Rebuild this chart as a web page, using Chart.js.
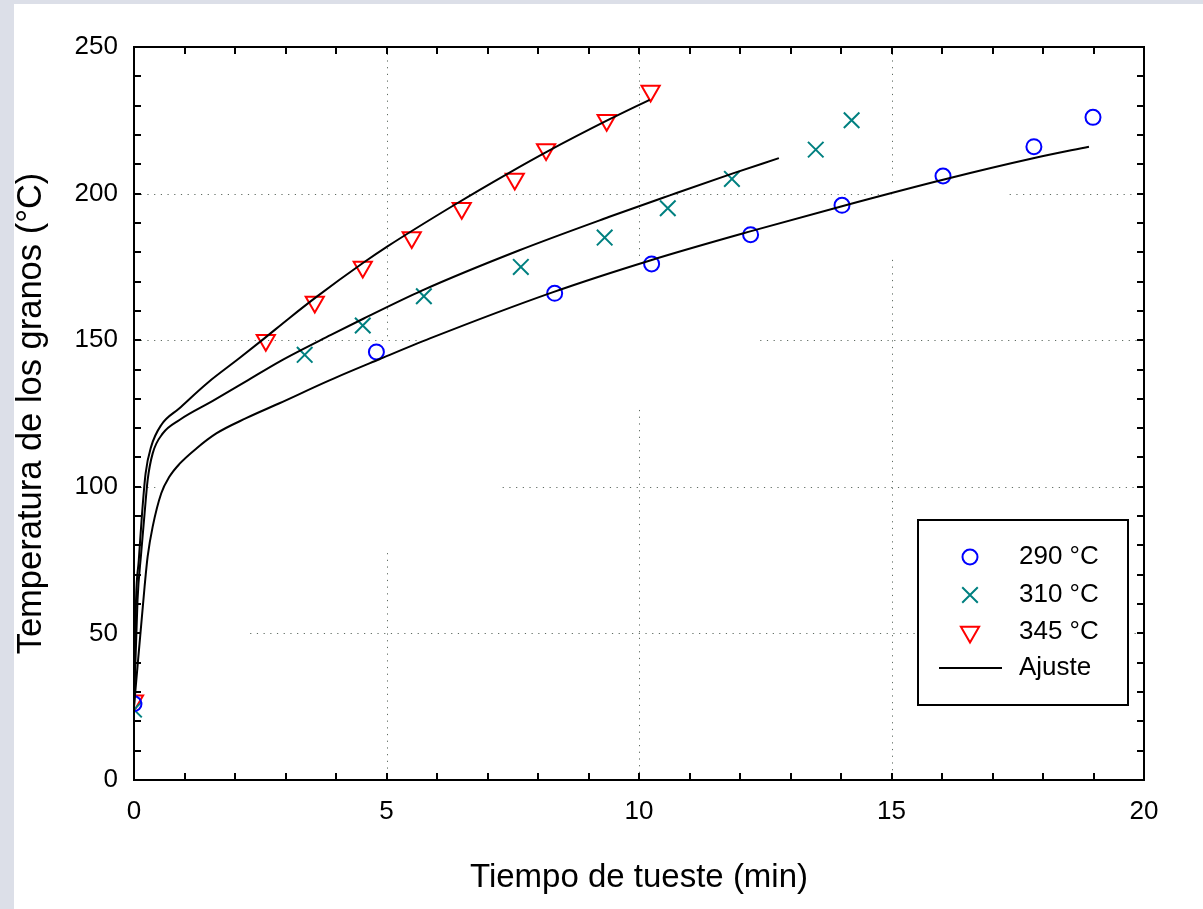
<!DOCTYPE html>
<html>
<head>
<meta charset="utf-8">
<title>Temperatura de los granos</title>
<script src="https://cdn.jsdelivr.net/npm/chart.js@4/dist/chart.umd.min.js"></script>
<style>
  html, body { margin: 0; padding: 0; background: #dcdfe8; }
  #wrap { width: 1203px; height: 909px; position: relative; }
</style>
</head>
<body>
<div id="wrap"><canvas id="grafica" width="1203" height="909"></canvas></div>
<script>
// Mediciones: tiempo (min) y temperatura de los granos (°C)
var tiempo290 = [0, 4.80, 8.33, 10.25, 12.21, 14.02, 16.02, 17.82, 18.99];
var temp290   = [26, 146, 166, 176, 186, 196, 206, 216, 226];

var tiempo310 = [0, 3.38, 4.53, 5.74, 7.66, 9.32, 10.57, 11.84, 13.50, 14.21];
var temp310   = [24, 145, 155, 165, 175, 185, 195, 205, 215, 225];

var tiempo345 = [0, 2.61, 3.58, 4.53, 5.50, 6.49, 7.54, 8.16, 9.36, 10.23];
var temp345   = [27, 150, 163, 175, 185, 195, 205, 215, 225, 235];

// Curvas de ajuste
var ajusteX290 = [0, 0.21, 0.27, 0.37, 0.54, 0.70, 0.90, 1.23, 1.63, 2.22, 2.88, 3.87, 4.86, 5.86, 8.30, 10.22, 12.22, 14.02, 16.04, 17.85, 18.91];
var ajusteT290 = [25, 66.0, 76.2, 86.4, 97.8, 103.4, 107.8, 113.0, 118.2, 123.4, 128.5, 136.3, 143.5, 150.6, 166.4, 177.2, 187.2, 195.7, 204.8, 212.2, 216.0];

var ajusteX310 = [0, 0.07, 0.14, 0.21, 0.27, 0.37, 0.57, 0.90, 1.56, 2.26, 2.89, 3.90, 4.55, 5.71, 7.62, 9.40, 10.61, 11.86, 12.77];
var ajusteT310 = [25, 61.4, 77.0, 91.0, 102.3, 111.4, 118.2, 122.8, 129.3, 136.4, 142.8, 151.8, 157.4, 167.0, 180.6, 192.0, 199.4, 206.9, 212.1];

var ajusteX345 = [0, 0.04, 0.095, 0.16, 0.23, 0.34, 0.54, 0.90, 1.46, 2.09, 2.55, 3.08, 3.60, 4.54, 5.02, 6.35, 7.42, 8.19, 9.40, 10.21];
var ajusteT345 = [25, 61.4, 75.0, 91.0, 104.6, 113.7, 121.1, 126.8, 135.5, 143.9, 150.2, 157.6, 164.6, 176.4, 182.0, 196.2, 207.0, 214.4, 225.2, 232.0];

var nombres = ['290 °C', '310 °C', '345 °C', 'Ajuste'];
var ticksX = [0, 5, 10, 15, 20];
var ticksY = [0, 50, 100, 150, 200, 250];

// Tramos visibles de la rejilla punteada: [eje, valor, desde, hasta]
var rejilla = [
  ['y', 200, 0, 15.0], ['y', 200, 17.34, 20],
  ['y', 150, 0, 5.65], ['y', 150, 12.4, 20],
  ['y', 100, 0, 0.5], ['y', 100, 7.3, 20],
  ['y', 50, 2.3, 20],
  ['x', 5, 150, 250], ['x', 5, 0, 77.4],
  ['x', 10, 177.4, 250], ['x', 10, 0, 126.2],
  ['x', 15, 202.3, 250], ['x', 15, 0, 177.4]
];

function puntos(xs, ys) {
  return xs.map(function(x, i) { return { x: x, y: ys[i] }; });
}

var fuente = 'Liberation Sans, Arial, sans-serif';

var datasets = [
  { label: nombres[3], data: puntos(ajusteX290, ajusteT290), showLine: true, pointRadius: 0, borderColor: '#000', borderWidth: 2, cubicInterpolationMode: 'monotone' },
  { label: nombres[3], data: puntos(ajusteX310, ajusteT310), showLine: true, pointRadius: 0, borderColor: '#000', borderWidth: 2, cubicInterpolationMode: 'monotone' },
  { label: nombres[3], data: puntos(ajusteX345, ajusteT345), showLine: true, pointRadius: 0, borderColor: '#000', borderWidth: 2, cubicInterpolationMode: 'monotone' },
  { label: nombres[0], data: puntos(tiempo290, temp290), showLine: false,
    pointStyle: 'circle', pointRadius: 7.5, borderColor: '#0000ff', backgroundColor: 'rgba(0,0,0,0)', pointBorderWidth: 2, borderWidth: 2 },
  { label: nombres[1], data: puntos(tiempo310, temp310), showLine: false,
    pointStyle: 'crossRot', pointRadius: 11, borderColor: '#008080', backgroundColor: 'rgba(0,0,0,0)', pointBorderWidth: 2, borderWidth: 2 },
  { label: nombres[2], data: puntos(tiempo345, temp345), showLine: false,
    pointStyle: 'triangle', rotation: 180, pointRadius: 10.5, borderColor: '#ff0000', backgroundColor: 'rgba(0,0,0,0)', pointBorderWidth: 2, borderWidth: 2 }
];

// Fondo blanco y rejilla punteada por tramos
var fondoRejilla = {
  id: 'fondoRejilla',
  beforeDraw: function(chart) {
    var ctx = chart.ctx;
    ctx.save();
    ctx.fillStyle = '#dcdfe8';
    ctx.fillRect(0, 0, chart.width, chart.height);
    ctx.fillStyle = '#ffffff';
    ctx.fillRect(14, 4, chart.width - 14, chart.height - 4);
    ctx.restore();
  },
  beforeDatasetsDraw: function(chart) {
    var ctx = chart.ctx, sx = chart.scales.x, sy = chart.scales.y;
    ctx.save();
    ctx.strokeStyle = '#5f6b62';
    ctx.lineWidth = 1;
    ctx.setLineDash([1.2, 5.5]);
    rejilla.forEach(function(r) {
      ctx.beginPath();
      if (r[0] === 'y') {
        var py = Math.round(sy.getPixelForValue(r[1])) + 0.5;
        ctx.moveTo(sx.getPixelForValue(r[2]), py);
        ctx.lineTo(sx.getPixelForValue(r[3]), py);
      } else {
        var px = Math.round(sx.getPixelForValue(r[1])) + 0.5;
        ctx.moveTo(px, sy.getPixelForValue(r[3]));
        ctx.lineTo(px, sy.getPixelForValue(r[2]));
      }
      ctx.stroke();
    });
    ctx.restore();
  }
};

// Marco con marcas hacia dentro y leyenda dentro del área
var marcoLeyenda = {
  id: 'marcoLeyenda',
  afterDatasetsDraw: function(chart) {
    var ctx = chart.ctx, a = chart.chartArea, sx = chart.scales.x, sy = chart.scales.y;
    var largo = 7, i, p;
    ctx.save();
    ctx.strokeStyle = '#000';
    ctx.lineWidth = 2;
    ctx.strokeRect(a.left, a.top, a.right - a.left, a.bottom - a.top);
    ctx.beginPath();
    for (i = 1; i < 20; i++) {
      p = Math.round(sx.getPixelForValue(i));
      ctx.moveTo(p, a.bottom); ctx.lineTo(p, a.bottom - largo);
      ctx.moveTo(p, a.top); ctx.lineTo(p, a.top + largo);
    }
    for (i = 10; i < 250; i += 10) {
      p = Math.round(sy.getPixelForValue(i));
      ctx.moveTo(a.left, p); ctx.lineTo(a.left + largo, p);
      ctx.moveTo(a.right, p); ctx.lineTo(a.right - largo, p);
    }
    ctx.stroke();

    // leyenda
    var bx = a.right - 226, by = a.bottom - 260, bw = 210, bh = 185;
    ctx.fillStyle = '#fff';
    ctx.fillRect(bx, by, bw, bh);
    ctx.strokeRect(bx, by, bw, bh);
    ctx.font = '26px ' + fuente;
    ctx.textBaseline = 'middle';
    ctx.textAlign = 'left';
    var filas = [37, 75, 112, 148];
    for (i = 0; i < 4; i++) {
      var cy = by + filas[i];
      if (i < 3) {
        var ds = chart.data.datasets[i + 3];
        ctx.strokeStyle = ds.borderColor;
        ctx.fillStyle = 'rgba(0,0,0,0)';
        ctx.lineWidth = 2;
        Chart.helpers.drawPoint(ctx, {
          pointStyle: ds.pointStyle, radius: ds.pointRadius,
          rotation: ds.rotation || 0, borderWidth: 2
        }, bx + 52, cy);
      } else {
        ctx.strokeStyle = '#000';
        ctx.lineWidth = 2;
        ctx.beginPath();
        ctx.moveTo(bx + 21, cy); ctx.lineTo(bx + 84, cy);
        ctx.stroke();
      }
      ctx.fillStyle = '#000';
      ctx.fillText(nombres[i], bx + 101, cy);
    }
    ctx.restore();
  }
};

new Chart(document.getElementById('grafica'), {
  type: 'scatter',
  data: { datasets: datasets },
  plugins: [fondoRejilla, marcoLeyenda],
  options: {
    responsive: false,
    animation: false,
    layout: { padding: { left: 0, top: 47, right: 59, bottom: 0 } },
    plugins: { legend: { display: false }, tooltip: { enabled: false } },
    scales: {
      x: {
        type: 'linear', min: 0, max: 20,
        afterFit: function(s) { s.height = 129; },
        afterBuildTicks: function(s) { s.ticks = ticksX.map(function(v) { return { value: v }; }); },
        grid: { display: false, drawTicks: false },
        border: { display: false },
        ticks: { color: '#000', padding: 16, maxRotation: 0, font: { family: fuente, size: 26 } },
        title: { display: true, text: 'Tiempo de tueste (min)', color: '#000',
                 padding: { top: 0, bottom: 11 }, font: { family: fuente, size: 33 } }
      },
      y: {
        type: 'linear', min: 0, max: 250,
        afterFit: function(s) { s.width = 134; },
        afterBuildTicks: function(s) { s.ticks = ticksY.map(function(v) { return { value: v }; }); },
        grid: { display: false, drawTicks: false },
        border: { display: false },
        ticks: { color: '#000', padding: 16, font: { family: fuente, size: 26 } },
        title: { display: true, text: 'Temperatura de los granos (°C)', color: '#000',
                 padding: { top: 11, bottom: 0 }, font: { family: fuente, size: 34.5 } }
      }
    }
  }
});
</script>
</body>
</html>
